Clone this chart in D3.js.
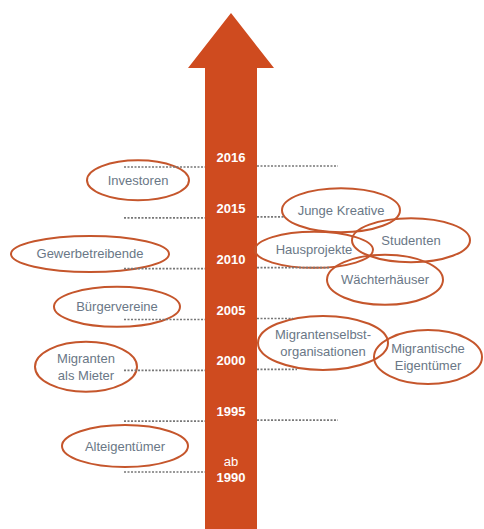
<!DOCTYPE html>
<html lang="de">
<head>
    <meta charset="utf-8">
    <title>Akteure im Zeitverlauf</title>
    <script src="https://d3js.org/d3.v7.min.js"></script>
    <style>
        * { margin: 0; padding: 0; }
        body { background: #fff; width: 484px; height: 529px; overflow: hidden; }
        svg { display: block; font-family: "Liberation Sans", Arial, sans-serif; }
    </style>
</head>
<body>
<div id="container"></div>
<script>
    // time axis labels, bottom to top
    const years = ["ab 1990", "1995", "2000", "2005", "2010", "2015", "2016"];

    // actors: name lines, position on the time axis (tick index), side offset from the arrow
    const actorNames = [
        ["Investoren"],
        ["Gewerbetreibende"],
        ["Bürgervereine"],
        ["Migranten", "als Mieter"],
        ["Alteigentümer"],
        ["Studenten"],
        ["Junge Kreative"],
        ["Hausprojekte"],
        ["Wächterhäuser"],
        ["Migrantische", "Eigentümer"],
        ["Migrantenselbst-", "organisationen"]
    ];
    const actorTime = [5.74, 4.29, 3.25, 2.07, 0.51, 4.56, 5.15, 4.37, 3.78, 2.26, 2.54];
    const actorOffset = [-93, -141, -114, -145, -106, 180, 110, 83, 154, 197, 92];

    const w = 484, h = 529;
    const cx = 231;
    const shaftHalf = 26;

    // ellipse radii per actor
    const rx = [51, 79, 63, 51, 63, 59, 59, 59, 58, 54, 65];
    const ry = [20, 18, 20, 25, 21, 22, 22, 18, 25, 27, 27];
    // dotted guide lengths on each side of the arrow
    const leftLen = [81, 81, 81, 81, 81, 81, 81];
    const rightLen = [0, 81, 40, 36, 73, 27, 81];

    const yScale = d3.scaleLinear().domain([0, years.length - 1]).range([472, 167]);
    const xScale = d3.scaleLinear().domain([-100, 100]).range([cx - 100, cx + 100]);

    const svg = d3.select("#container").append("svg")
        .attr("width", w)
        .attr("height", h);

    // arrow
    const arrow = d3.path();
    arrow.moveTo(cx - shaftHalf, h);
    arrow.lineTo(cx - shaftHalf, 68);
    arrow.lineTo(cx - 43, 68);
    arrow.lineTo(cx, 13);
    arrow.lineTo(cx + 43, 68);
    arrow.lineTo(cx + shaftHalf, 68);
    arrow.lineTo(cx + shaftHalf, h);
    arrow.closePath();
    svg.append("path")
        .attr("d", arrow.toString())
        .attr("fill", "#cf4b1f");

    // actors
    const actors = svg.append("g").selectAll("g")
        .data(actorNames)
        .join("g")
        .attr("transform", (d, i) => `translate(${xScale(actorOffset[i])},${yScale(actorTime[i])})`);

    actors.append("ellipse")
        .attr("rx", (d, i) => rx[i])
        .attr("ry", (d, i) => ry[i])
        .attr("fill", "none")
        .attr("stroke", "#c5562c")
        .attr("stroke-width", 2);

    actors.append("text")
        .attr("text-anchor", "middle")
        .attr("fill", "#6a7786")
        .attr("font-size", 13)
        .selectAll("tspan")
        .data(d => d.map((line, k) => ({ line, k, n: d.length })))
        .join("tspan")
        .attr("x", 0)
        .attr("y", l => (l.k - (l.n - 1) / 2) * 17 + 4.5)
        .text(l => l.line);

    // dotted guides
    const guides = svg.append("g")
        .attr("stroke", "#777")
        .attr("stroke-width", 1.6)
        .attr("stroke-dasharray", "2,1.5");
    guides.selectAll("line.left")
        .data(years)
        .join("line")
        .attr("class", "left")
        .attr("x1", (d, i) => cx - shaftHalf - leftLen[i])
        .attr("x2", cx - shaftHalf)
        .attr("y1", (d, i) => yScale(i))
        .attr("y2", (d, i) => yScale(i));
    guides.selectAll("line.right")
        .data(years.filter((d, i) => rightLen[i] > 0))
        .join("line")
        .attr("class", "right")
        .attr("x1", cx + shaftHalf)
        .attr("x2", d => cx + shaftHalf + rightLen[years.indexOf(d)])
        .attr("y1", d => yScale(years.indexOf(d)) - 1)
        .attr("y2", d => yScale(years.indexOf(d)) - 1);

    // year labels
    svg.append("g").selectAll("text")
        .data(years)
        .join("text")
        .attr("x", cx)
        .attr("y", (d, i) => yScale(i) - (d.startsWith("ab") ? 6 : 5))
        .attr("text-anchor", "middle")
        .attr("fill", "#fff")
        .attr("font-size", 13)
        .attr("font-weight", "bold")
        .each(function(d) {
            const t = d3.select(this);
            d.split(" ").forEach((p, k) => {
                t.append("tspan")
                    .attr("x", cx)
                    .attr("dy", k === 0 ? 0 : 16)
                    .attr("font-weight", p === "ab" ? "normal" : "bold")
                    .text(p);
            });
        });
</script>
</body>
</html>
